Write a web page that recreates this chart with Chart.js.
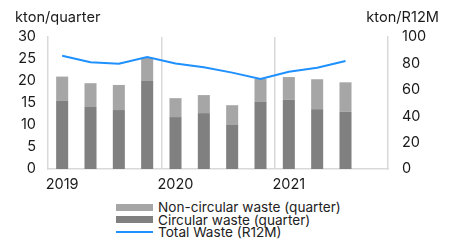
<!DOCTYPE html>
<html>
<head>
<meta charset="utf-8">
<script src="https://cdn.jsdelivr.net/npm/chart.js@4/dist/chart.umd.min.js"></script>
<style>
  body { margin: 0; background: #fff; font-family: Inter, 'Liberation Sans', Arial, sans-serif; }
  #wrap { position: relative; width: 454px; height: 243px; }
  #box { position: absolute; left: 0; top: 0; width: 454px; height: 192px; }
  #legend { position: absolute; left: 116px; top: 201px; font-size: 13.6px; color: #222; line-height: 12.5px; }
  .item { display: flex; align-items: center; height: 12.5px; white-space: nowrap; }
  .swatch { width: 37px; margin-right: 5px; }
</style>
</head>
<body>
<div id="wrap">
  <div id="box"><canvas id="myChart"></canvas></div>
  <div id="legend"></div>
</div>
<script>
// quarters 2019 Q1 .. 2021 Q4 (last quarter has no data yet)
const quarters = ['2019Q1', '2019Q2', '2019Q3', '2019Q4', '2020Q1', '2020Q2', '2020Q3', '2020Q4', '2021Q1', '2021Q2', '2021Q3', '2021Q4'];
const xTickLabels = ['2019', '', '', '', '2020', '', '', '', '2021', '', '', ''];
const circular = [15.5, 14.1, 13.4, 20.0, 11.8, 12.7, 10.0, 15.2, 15.7, 13.6, 13.0, null];
const nonCircular = [5.5, 5.4, 5.7, 5.3, 4.3, 4.1, 4.5, 5.3, 5.2, 6.8, 6.7, null];
const totalR12M = [85.8, 80.8, 79.8, 84.8, 80.0, 77.0, 73.0, 68.2, 73.7, 76.7, 81.8, null];
const leftTicks = [0, 5, 10, 15, 20, 25, 30];
const rightTicks = [0, 20, 40, 60, 80, 100];
const leftTitle = 'kton/quarter';
const rightTitle = 'kton/R12M';

const FONT = "Inter, 'Liberation Sans', Arial, sans-serif";
const TEXT = '#1a1a1a';
const AXIS = '#d9d9d9';

const axisTitles = {
    id: 'axisTitles',
    afterDraw(chart) {
        const ctx = chart.ctx;
        ctx.save();
        ctx.font = '14.6px ' + FONT;
        ctx.fillStyle = TEXT;
        ctx.textBaseline = 'middle';
        ctx.textAlign = 'left';
        ctx.fillText(leftTitle, 15, 18);
        ctx.textAlign = 'right';
        ctx.fillText(rightTitle, 439, 18);
        ctx.restore();
    }
};

const datasets = [
    {
        type: 'line',
        label: 'Total Waste (R12M)',
        data: totalR12M,
        yAxisID: 'y1',
        borderColor: '#1e90ff',
        backgroundColor: '#1e90ff',
        borderWidth: 2,
        pointRadius: 0,
        tension: 0,
        order: 0
    },
    {
        label: 'Circular waste (quarter)',
        data: circular,
        backgroundColor: '#808080',
        yAxisID: 'y',
        stack: 'waste',
        order: 1
    },
    {
        label: 'Non-circular waste (quarter)',
        data: nonCircular,
        backgroundColor: '#a6a6a6',
        yAxisID: 'y',
        stack: 'waste',
        order: 1
    }
];

new Chart(document.getElementById('myChart'), {
    type: 'bar',
    data: { labels: quarters, datasets: datasets },
    options: {
        responsive: true,
        maintainAspectRatio: false,
        animation: false,
        datasets: { bar: { barPercentage: 0.85, categoryPercentage: 0.5 } },
        layout: { padding: { top: 37, left: 0, right: 0, bottom: 0 } },
        plugins: { legend: { display: false }, tooltip: { enabled: false } },
        scales: {
            x: {
                stacked: true,
                grid: {
                    offset: true,
                    drawTicks: false,
                    color: (c) => (c.index === 4 || c.index === 8) ? AXIS : 'rgba(0,0,0,0)',
                    lineWidth: 1.5
                },
                border: { display: true, color: AXIS, width: 1.5 },
                ticks: {
                    autoSkip: false,
                    maxRotation: 0,
                    padding: 7,
                    color: TEXT,
                    font: { family: FONT, size: 14.5 },
                    callback: (v, i) => xTickLabels[i]
                },
                afterFit: (s) => { s.height = 23; }
            },
            y: {
                stacked: true,
                position: 'left',
                min: 0,
                max: 30,
                afterBuildTicks: (s) => { s.ticks = leftTicks.map(v => ({ value: v })); },
                grid: { display: false, drawTicks: false },
                border: { display: true, color: AXIS, width: 1.5 },
                ticks: { padding: 12, color: TEXT, font: { family: FONT, size: 14.5 } },
                afterFit: (s) => { s.width = 48; }
            },
            y1: {
                position: 'right',
                min: 0,
                max: 100,
                afterBuildTicks: (s) => { s.ticks = rightTicks.map(v => ({ value: v })); },
                grid: { display: false, drawTicks: false },
                border: { display: true, color: AXIS, width: 1.5 },
                ticks: { padding: 14, color: TEXT, font: { family: FONT, size: 14.5 } },
                afterFit: (s) => { s.width = 66; }
            }
        }
    },
    plugins: [axisTitles]
});

// legend below the chart, stacked one item per row
const legendItems = [
    { label: datasets[2].label, color: datasets[2].backgroundColor, h: 7 },
    { label: datasets[1].label, color: datasets[1].backgroundColor, h: 7 },
    { label: datasets[0].label, color: datasets[0].borderColor, h: 2 }
];
const legendEl = document.getElementById('legend');
legendItems.forEach(it => {
    const row = document.createElement('div');
    row.className = 'item';
    const sw = document.createElement('span');
    sw.className = 'swatch';
    sw.style.height = it.h + 'px';
    sw.style.background = it.color;
    const tx = document.createElement('span');
    tx.textContent = it.label;
    row.appendChild(sw);
    row.appendChild(tx);
    legendEl.appendChild(row);
});
</script>
</body>
</html>
